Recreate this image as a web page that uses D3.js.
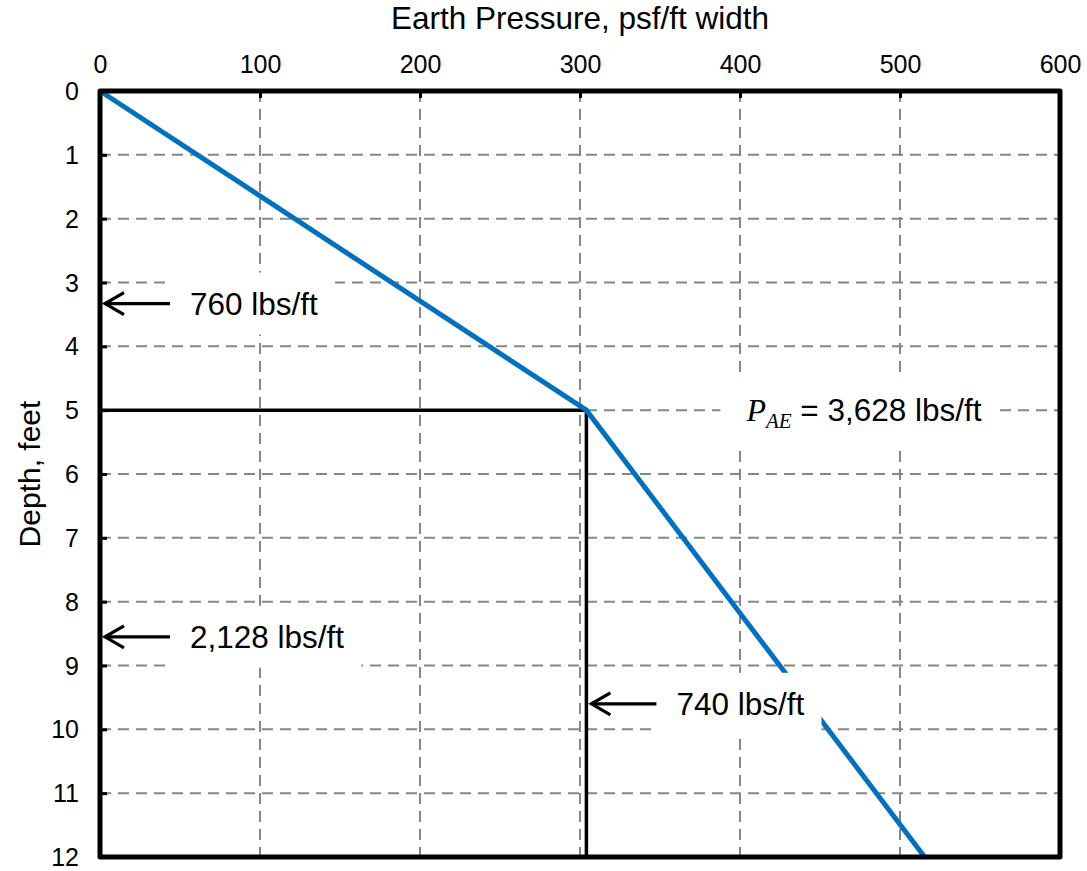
<!DOCTYPE html>
<html>
<head>
<meta charset="utf-8">
<script src="https://cdn.jsdelivr.net/npm/d3@7"></script>
<style>
    body { margin: 0; background: #fff; }
    svg text { font-family: "Liberation Sans", Arial, sans-serif; fill: #000; }
</style>
</head>
<body>
<div id="chart"></div>
<script>
// earth pressure profile (psf/ft width vs depth)
var pressure = [0, 304, 515.4];
var depth = [0, 5, 12];

// rectangle under the top triangle
var rectPressure = [0, 304, 304];
var rectDepth = [5, 5, 12];

var xTicks = [0, 100, 200, 300, 400, 500, 600];
var yTicks = [0, 1, 2, 3, 4, 5, 6, 7, 8, 9, 10, 11, 12];

// resultant force labels
var loadLabels = ["760 lbs/ft", "2,128 lbs/ft", "740 lbs/ft"];
var loadPressure = [0, 0, 304];
var loadDepth = [3.33, 8.55, 9.6];
var totalLabel = " = 3,628 lbs/ft";
var totalAt = [404, 5];

var W = 1087, H = 871;
var margin = {top: 91, right: 27, bottom: 14, left: 100};

var svg = d3.select("#chart").append("svg")
    .attr("width", W)
    .attr("height", H);

var x = d3.scaleLinear()
    .domain([0, 600])
    .range([margin.left, W - margin.right]);

var y = d3.scaleLinear()
    .domain([0, 12])
    .range([margin.top, H - margin.bottom]);

// grid
var grid = svg.append("g").attr("class", "grid");
grid.selectAll(".vg")
    .data(xTicks.slice(1, -1))
    .enter().append("line")
    .attr("x1", function(d) { return x(d); })
    .attr("x2", function(d) { return x(d); })
    .attr("y1", y(0))
    .attr("y2", y(12))
    .attr("stroke", "#868686")
    .attr("stroke-width", 2)
    .attr("stroke-dasharray", "11,7");
grid.selectAll(".hg")
    .data(yTicks.slice(1, -1))
    .enter().append("line")
    .attr("y1", function(d) { return y(d); })
    .attr("y2", function(d) { return y(d); })
    .attr("x1", x(0))
    .attr("x2", x(600))
    .attr("stroke", "#868686")
    .attr("stroke-width", 2)
    .attr("stroke-dasharray", "11,7");

var line = d3.line()
    .x(function(d) { return x(d[0]); })
    .y(function(d) { return y(d[1]); });

svg.append("path")
    .datum(d3.zip(rectPressure, rectDepth))
    .attr("d", line)
    .attr("fill", "none")
    .attr("stroke", "#000")
    .attr("stroke-width", 3.5);

svg.append("path")
    .datum(d3.zip(pressure, depth))
    .attr("d", line)
    .attr("fill", "none")
    .attr("stroke", "#0070C0")
    .attr("stroke-width", 5);

// frame + axes
svg.append("rect")
    .attr("x", x(0))
    .attr("y", y(0))
    .attr("width", x(600) - x(0))
    .attr("height", y(12) - y(0))
    .attr("fill", "none")
    .attr("stroke", "#000")
    .attr("stroke-width", 5)
    .attr("stroke-linejoin", "round");

var xAxis = svg.append("g")
    .attr("transform", "translate(0," + y(0) + ")")
    .call(d3.axisTop(x).tickValues(xTicks).tickSize(-7).tickPadding(18));
var yAxis = svg.append("g")
    .attr("transform", "translate(" + x(0) + ",0)")
    .call(d3.axisLeft(y).tickValues(yTicks).tickSize(-7).tickPadding(21));

[xAxis, yAxis].forEach(function(ax) {
    ax.select(".domain").remove();
    ax.selectAll(".tick line").attr("stroke", "#000").attr("stroke-width", 3);
    ax.selectAll(".tick text")
        .style("font-family", "'Liberation Sans', Arial, sans-serif")
        .style("font-size", "25px");
});
xAxis.selectAll(".tick text").attr("dy", "0");
yAxis.selectAll(".tick text").attr("dy", "0.34em");

svg.append("text")
    .attr("x", (x(0) + x(600)) / 2)
    .attr("y", 29)
    .attr("text-anchor", "middle")
    .style("font-size", "31.5px")
    .text("Earth Pressure, psf/ft width");

svg.append("text")
    .attr("transform", "translate(40," + ((y(0) + y(12)) / 2) + ") rotate(-90)")
    .attr("text-anchor", "middle")
    .style("font-size", "30px")
    .text("Depth, feet");

// annotations
var notes = svg.append("g").attr("class", "notes");

function addBox(t) {
    var bb = t.node().getBBox();
    notes.insert("rect", function() { return t.node(); })
        .attr("x", bb.x - 25)
        .attr("y", bb.y - 13)
        .attr("width", bb.width + 42)
        .attr("height", bb.height + 26)
        .attr("fill", "#fff");
}

loadLabels.forEach(function(lbl, i) {
    var tipX = x(loadPressure[i]) + 4,
        ay = y(loadDepth[i]);
    var t = notes.append("text")
        .attr("x", tipX + 86)
        .attr("y", ay + 11)
        .style("font-size", "31.5px")
        .text(lbl);
    addBox(t);
    notes.append("line")
        .attr("x1", tipX + 1).attr("x2", tipX + 66)
        .attr("y1", ay).attr("y2", ay)
        .attr("stroke", "#000").attr("stroke-width", 3.2);
    notes.append("path")
        .attr("d", "M" + (tipX + 20) + "," + (ay - 11) + "L" + (tipX + 1) + "," + ay + "L" + (tipX + 20) + "," + (ay + 11))
        .attr("fill", "none")
        .attr("stroke", "#000")
        .attr("stroke-width", 3.2);
});

var tot = notes.append("text")
    .attr("x", x(totalAt[0]))
    .attr("y", y(totalAt[1]) + 11)
    .style("font-size", "31.5px");
tot.append("tspan")
    .style("font-family", "'Liberation Serif', 'Times New Roman', serif")
    .style("font-style", "italic")
    .style("font-size", "32px")
    .text("P");
tot.append("tspan")
    .style("font-family", "'Liberation Serif', 'Times New Roman', serif")
    .style("font-style", "italic")
    .style("font-size", "21px")
    .attr("dy", 7)
    .text("AE");
tot.append("tspan")
    .attr("dy", -7)
    .text(totalLabel);
addBox(tot);
</script>
</body>
</html>
